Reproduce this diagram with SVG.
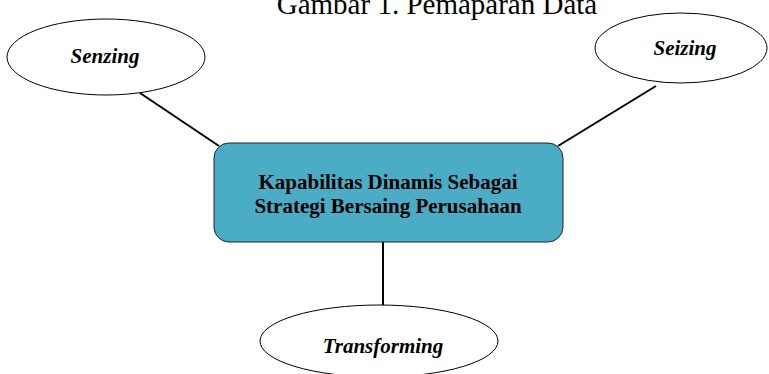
<svg xmlns="http://www.w3.org/2000/svg" width="769" height="374" viewBox="0 0 769 374">
<style>
.ell{fill:#fff;stroke:#000;stroke-width:1}
.lbl{font-family:'Liberation Serif',serif;font-weight:bold;font-style:italic;font-size:21px;text-anchor:middle;fill:#000}
.main{font-family:'Liberation Serif',serif;font-weight:bold;font-size:21px;text-anchor:middle;fill:#000}
.con{stroke:#000;stroke-width:2;fill:none}
</style>
<rect width="769" height="374" fill="#fff"/>
<text x="437" y="14" font-family="'Liberation Serif',serif" font-size="29" text-anchor="middle">Gambar 1. Pemaparan Data</text>
<g id="connectors">
<line class="con" x1="140" y1="93" x2="219" y2="146"/>
<line class="con" x1="656" y1="86" x2="558" y2="146"/>
<line class="con" x1="383" y1="242" x2="383" y2="306"/>
</g>
<g id="senzing">
<ellipse class="ell" cx="106" cy="57" rx="99" ry="38"/>
<text class="lbl" x="105" y="63">Senzing</text>
</g>
<g id="seizing">
<ellipse class="ell" cx="681" cy="48" rx="86" ry="35"/>
<text class="lbl" x="685" y="55">Seizing</text>
</g>
<g id="center">
<rect x="214" y="143" width="349" height="99" rx="15" ry="15" fill="#4BACC6" stroke="#222" stroke-width="1"/>
<text class="main" x="388" y="189">Kapabilitas Dinamis Sebagai</text>
<text class="main" x="388" y="213">Strategi Bersaing Perusahaan</text>
</g>
<g id="transforming">
<ellipse class="ell" cx="379" cy="341" rx="119" ry="36"/>
<text class="lbl" x="383" y="353">Transforming</text>
</g>
</svg>
